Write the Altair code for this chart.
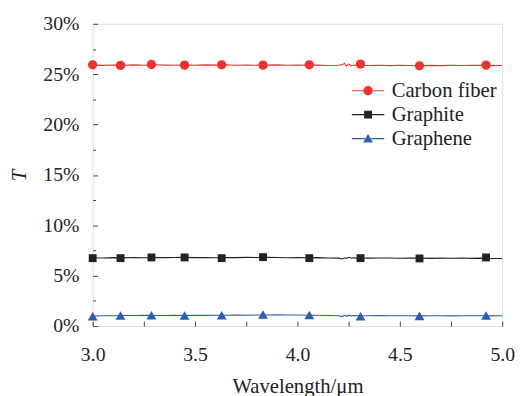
import altair as alt
import pandas as pd

# ---------------- data ----------------
names = ["Carbon fiber", "Graphite", "Graphene"]
colors = ["#ee3131", "#222222", "#2d5cb0"]
shapes = ["circle", "square", "triangle-up"]
sizes = [90, 64, 100]

# legend glyphs: a line with the series marker in its middle (paths in symbol units)
legend_glyphs = [
    "M-1.57,-0.06H-0.43V0.06H-1.57Z M0.43,-0.06H1.57V0.06H0.43Z "
    "M0.45,0A0.45,0.45,0,1,1,-0.45,0A0.45,0.45,0,1,1,0.45,0Z",
    "M-1.57,-0.06H-0.37V0.06H-1.57Z M0.37,-0.06H1.57V0.06H0.37Z "
    "M-0.38,-0.38H0.38V0.38H-0.38Z",
    "M-1.57,-0.06H-0.3V0.06H-1.57Z M0.3,-0.06H1.57V0.06H0.3Z "
    "M0,-0.45L0.48,0.37L-0.48,0.37Z",
]

# marker positions (wavelength, µm)
marker_wl = [3.000, 3.136, 3.287, 3.449, 3.630, 3.832, 4.058, 4.308, 4.596, 4.921]
marker_cf = [25.93, 25.87, 25.96, 25.90, 25.93, 25.90, 25.93, 26.00, 25.83, 25.90]
marker_gt = [6.74, 6.74, 6.81, 6.81, 6.74, 6.84, 6.74, 6.74, 6.71, 6.81]
marker_gn = [0.98, 1.05, 1.07, 1.05, 1.07, 1.14, 1.10, 0.98, 1.01, 1.05]

# measured traces
line_wl = [3.00, 3.05, 3.10, 3.15, 3.20, 3.25, 3.30, 3.35, 3.40, 3.45,
           3.50, 3.55, 3.60, 3.65, 3.70, 3.75, 3.80, 3.85, 3.90, 3.95,
           4.00, 4.05, 4.10, 4.15, 4.20, 4.22, 4.23, 4.24, 4.25, 4.26,
           4.28, 4.30, 4.35, 4.40, 4.45, 4.50, 4.55, 4.60, 4.65, 4.70,
           4.75, 4.80, 4.85, 4.90, 4.95, 5.00]
line_cf = [25.90, 25.87, 25.91, 25.88, 25.92, 25.89, 25.93, 25.90, 25.88, 25.91,
           25.89, 25.92, 25.90, 25.93, 25.89, 25.91, 25.88, 25.90, 25.92, 25.89,
           25.91, 25.88, 25.90, 25.86, 25.89, 25.95, 26.08, 25.80, 26.02, 25.84,
           25.90, 25.88, 25.86, 25.89, 25.85, 25.88, 25.86, 25.84, 25.87, 25.85,
           25.88, 25.86, 25.89, 25.87, 25.85, 25.86]
line_gt = [6.78, 6.76, 6.79, 6.77, 6.80, 6.78, 6.81, 6.79, 6.80, 6.82,
           6.79, 6.81, 6.78, 6.80, 6.79, 6.82, 6.80, 6.83, 6.80, 6.78,
           6.80, 6.77, 6.79, 6.76, 6.74, 6.66, 6.78, 6.72, 6.82, 6.75,
           6.77, 6.76, 6.74, 6.76, 6.75, 6.73, 6.75, 6.74, 6.72, 6.74,
           6.73, 6.75, 6.72, 6.74, 6.71, 6.70]
line_gn = [1.00, 1.02, 1.03, 1.05, 1.04, 1.06, 1.05, 1.04, 1.06, 1.05,
           1.07, 1.06, 1.08, 1.07, 1.09, 1.08, 1.10, 1.09, 1.11, 1.10,
           1.09, 1.08, 1.07, 1.05, 1.03, 0.94, 1.06, 0.97, 1.08, 1.01,
           1.04, 1.03, 1.02, 1.04, 1.03, 1.02, 1.03, 1.01, 1.02, 1.03,
           1.01, 1.02, 1.03, 1.02, 1.01, 1.02]

y_label_ticks = [0, 5, 10, 15, 20, 25, 30]
y_minor_ticks = [2.5, 7.5, 12.5, 17.5, 22.5, 27.5]
x_label_ticks = [3.0, 3.5, 4.0, 4.5, 5.0]
x_inner_ticks = [3.0, 3.25, 3.5, 3.75, 4.0, 4.25, 4.5, 4.75, 5.0]

# ---------------- tables ----------------
n = len(line_wl)
m = len(marker_wl)
lines = pd.DataFrame({
    "wl": line_wl * 3,
    "T": line_cf + line_gt + line_gn,
    "series": [names[0]] * n + [names[1]] * n + [names[2]] * n,
})
pts = pd.DataFrame({
    "wl": marker_wl * 3,
    "T": marker_cf + marker_gt + marker_gn,
    "series": [names[0]] * m + [names[1]] * m + [names[2]] * m,
})

FONT = "'Liberation Serif', 'Times New Roman', serif"
INK = "#222222"
xs = alt.Scale(domain=[3.0, 5.0], nice=False, zero=False)
ys = alt.Scale(domain=[0, 30], nice=False)

# labelled axes carried by an invisible layer
axis_layer = alt.Chart(pts).mark_point(opacity=0).encode(
    x=alt.X("wl:Q", scale=xs, axis=alt.Axis(
        orient="bottom", values=x_label_ticks, format=".1f", ticks=False, domain=False,
        grid=False, labelPadding=19, labelFontSize=20, labelFont=FONT, labelColor=INK,
        title="Wavelength/\u03bcm", titleFont=FONT, titleFontSize=21, titleFontWeight="normal",
        titleColor=INK, titlePadding=11, labelFlush=False)),
    y=alt.Y("T:Q", scale=ys, axis=alt.Axis(
        orient="left", values=y_label_ticks, labelExpr="datum.value + '%'", ticks=False,
        domain=False, grid=False, labelPadding=14, labelFontSize=20, labelFont=FONT,
        labelColor=INK, title="T", titleFont=FONT, titleFontSize=21, titleFontStyle="italic",
        titleFontWeight="normal", titleColor=INK, titlePadding=14)),
)

# inner tick marks (left edge major, bottom edge)
tick_layer = alt.Chart(pts).mark_point(opacity=0).encode(
    x=alt.X("wl:Q", scale=xs, axis=alt.Axis(
        orient="top", offset=-307, values=x_inner_ticks, labels=False, domain=False,
        grid=False, ticks=True, tickSize=5, tickColor="#444", title=None)),
    y=alt.Y("T:Q", scale=ys, axis=alt.Axis(
        orient="right", offset=-416, values=y_label_ticks, labels=False, domain=False,
        grid=False, ticks=True, tickSize=5, tickColor="#444", title=None)),
)

minor_layer = alt.Chart(pts).mark_point(opacity=0).encode(
    x=alt.X("wl:Q", scale=xs, axis=None),
    y=alt.Y("T:Q", scale=ys, axis=alt.Axis(
        orient="right", offset=-416, values=y_minor_ticks, labels=False, domain=False,
        grid=False, ticks=True, tickSize=3, tickColor="#444", title=None)),
)

# traces: one layer per series
line_layers = [
    alt.Chart(lines).transform_filter(alt.datum.series == nm).mark_line(
        strokeWidth=1.1, color=c).encode(
        x=alt.X("wl:Q", scale=xs, axis=None),
        y=alt.Y("T:Q", scale=ys, axis=None),
    )
    for nm, c in zip(names, colors)
]

# markers: one layer per series
marker_layers = [
    alt.Chart(pts).transform_filter(alt.datum.series == nm).mark_point(
        filled=True, opacity=1, strokeWidth=0, shape=s, fill=c, size=z).encode(
        x=alt.X("wl:Q", scale=xs, axis=None),
        y=alt.Y("T:Q", scale=ys, axis=None),
    )
    for nm, s, c, z in zip(names, shapes, colors, sizes)
]

LX, LY = 269.2, 57.5
leg = alt.Legend(
    orient="none", legendX=LX, legendY=LY, title=None, symbolSize=441,
    symbolStrokeWidth=0, labelFont=FONT, labelFontSize=21, labelColor=INK,
    labelOffset=13.5, rowPadding=2.3, padding=0)

legend_layer = alt.Chart(pts).transform_filter("datum.T < -100").mark_point(
    filled=True, opacity=1, strokeWidth=0).encode(
    x=alt.X("wl:Q", scale=xs, axis=None),
    y=alt.Y("T:Q", scale=ys, axis=None),
    color=alt.Color("series:N", scale=alt.Scale(domain=names, range=colors), legend=leg),
    shape=alt.Shape("series:N", scale=alt.Scale(domain=names, range=legend_glyphs), legend=leg),
)

chart = alt.layer(
    axis_layer, tick_layer, minor_layer, *line_layers, *marker_layers, legend_layer
).resolve_axis(x="independent", y="independent").properties(
    width=416, height=307,
    autosize=alt.AutoSizeParams(type="none"),
    padding={"left": 86, "top": 13, "right": 15, "bottom": 68},
).configure_view(stroke="#3a3a3a", strokeWidth=1.4).configure(background="white")

chart.save("out.html", embed_options={"renderer": "svg", "actions": False})
